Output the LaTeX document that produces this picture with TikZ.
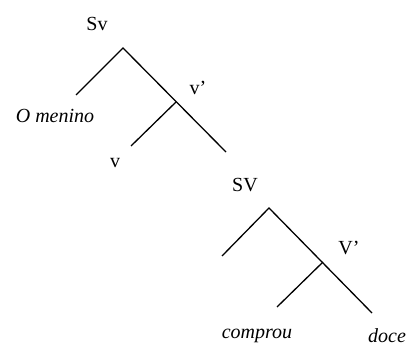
\documentclass[tikz,border=0pt]{standalone}
\usepackage{fontspec}
\setmainfont{Liberation Serif}
\begin{document}
\begin{tikzpicture}[x=1pt,y=-1pt,
  branch/.style={line width=1.3pt},
  lab/.style={inner sep=0pt,font=\fontsize{20}{23}\selectfont}]
\useasboundingbox (0,0) rectangle (409,347);
% upper tree
\coordinate (A) at (123,48);
\coordinate (Al) at (76,95);
\coordinate (B) at (176,102);
\coordinate (Bl) at (131,146);
\coordinate (Br) at (226,152);
\node[lab] (Sv) at (97,24) {Sv};
\node[lab] (vbar) at (198,88) {v’};
\node[lab] (menino) at (55,116) {\itshape O menino};
\node[lab] (v) at (115,163) {v};
\draw[branch] (Al) -- (A) -- (Br);
\draw[branch] (Bl) -- (B);
% lower tree
\coordinate (C) at (269,208);
\coordinate (Cl) at (222,256);
\coordinate (D) at (323,262);
\coordinate (Dl) at (277,307);
\coordinate (Dr) at (372,313);
\node[lab] (SV) at (245,185) {SV};
\node[lab] (Vbar) at (349,248) {V’};
\node[lab] (comprou) at (257,336) {\itshape comprou};
\node[lab] (doce) at (387,336) {\itshape doce};
\draw[branch] (Cl) -- (C) -- (Dr);
\draw[branch] (Dl) -- (D);
\end{tikzpicture}
\end{document}
